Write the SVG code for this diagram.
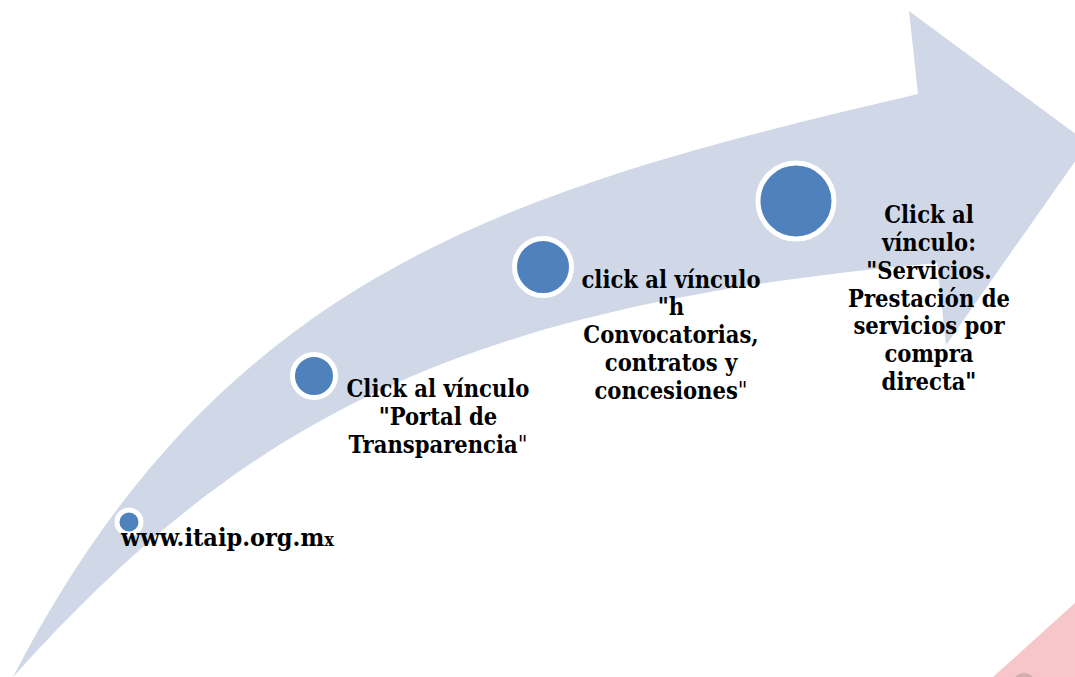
<svg xmlns="http://www.w3.org/2000/svg" width="1075" height="677" viewBox="0 0 1075 677">
<style>
.band{fill:#d0d8e8}
.dot{fill:#4f81bd;stroke:#ffffff;stroke-width:5}
.t{font-family:'DejaVu Serif Condensed','DejaVu Serif','Liberation Serif',serif;font-stretch:condensed;font-weight:bold;font-size:23.5px;fill:#000;text-anchor:middle}
.thin{font-weight:normal}
</style>
<rect width="1075" height="677" fill="#ffffff"/>
<g id="arrow">
<path class="band" d="M13,677 C248,415 466,305 937,263 L946,345 L1088,143 L909,11 L918,94 C515,188 223,270 13,677 Z"/>
</g>
<g id="watermark">
<polygon points="1075,603 993,677 1075,677" fill="#f7c6c9"/>
<ellipse cx="1024" cy="679" rx="9" ry="6" fill="#d3aeb1"/>
</g>
<g id="connectors"></g>
<g id="node1">
<circle class="dot" cx="129" cy="522" r="12"/>
<text class="t" x="121" y="546" style="text-anchor:start;font-size:25px">www.itaip.org.m<tspan font-size="18px">x</tspan></text>
</g>
<g id="node2">
<circle class="dot" cx="314" cy="376" r="21.5"/>
<text class="t" x="438" y="397">Click al vínculo</text>
<text class="t" x="438" y="425">"Portal de</text>
<text class="t" x="438" y="453">Transparencia<tspan class="thin">"</tspan></text>
</g>
<g id="node3">
<circle class="dot" cx="543" cy="267" r="28.5"/>
<text class="t" x="671" y="288">click al vínculo</text>
<text class="t" x="671" y="315">"h</text>
<text class="t" x="671" y="343">Convocatorias,</text>
<text class="t" x="671" y="371">contratos y</text>
<text class="t" x="671" y="399">concesiones<tspan class="thin">"</tspan></text>
</g>
<g id="node4">
<circle class="dot" cx="796" cy="201" r="38"/>
<text class="t" x="929" y="223">Click al</text>
<text class="t" x="929" y="251">vínculo:</text>
<text class="t" x="929" y="279">"Servicios.</text>
<text class="t" x="929" y="307">Prestación de</text>
<text class="t" x="929" y="334">servicios por</text>
<text class="t" x="929" y="362">compra</text>
<text class="t" x="929" y="390">directa"</text>
</g>
</svg>
